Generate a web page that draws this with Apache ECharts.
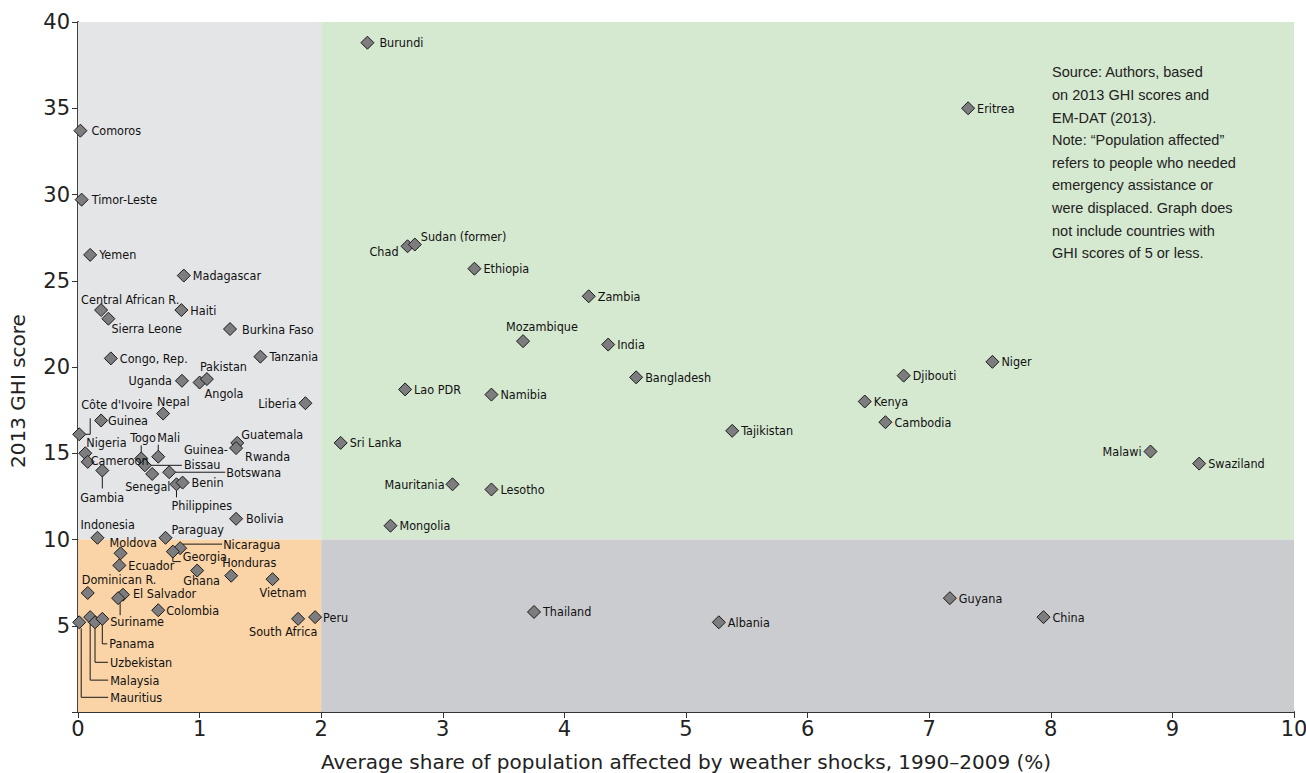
<!DOCTYPE html>
<html><head><meta charset="utf-8">
<script src="https://cdn.jsdelivr.net/npm/echarts@6/dist/echarts.min.js"></script>
<style>html,body{margin:0;padding:0;background:#fff}#chart{width:1306px;height:773px}</style>
</head><body><div id="chart"></div>
<script>
// ---------------- DATA ----------------
const countries = [
  'Comoros','Timor-Leste','Yemen','Madagascar','Central African R.','Sierra Leone','Haiti','Burkina Faso',
  'Congo, Rep.','Tanzania','Uganda','Angola','Pakistan','Liberia','Nepal','Côte d\'Ivoire','Guinea',
  'Nigeria','Cameroon','Gambia','Togo','Mali','Guinea-Bissau','Senegal','Botswana','Philippines','Benin',
  'Guatemala','Rwanda','Bolivia','Indonesia','Paraguay','Moldova','Ecuador','Nicaragua','Georgia','Ghana',
  'Honduras','Vietnam','Dominican R.','El Salvador','Suriname','Colombia','Mauritius','Malaysia',
  'Uzbekistan','Panama','South Africa','Peru','Burundi','Eritrea','Chad','Sudan (former)','Ethiopia',
  'Zambia','Mozambique','India','Bangladesh','Niger','Djibouti','Lao PDR','Namibia','Kenya','Cambodia',
  'Tajikistan','Sri Lanka','Mauritania','Lesotho','Mongolia','Malawi','Swaziland','Thailand','Albania',
  'Guyana','China'
];
const shareAffected = [
  0.02,0.03,0.10,0.87,0.19,0.25,0.85,1.25,
  0.27,1.50,0.855,1.00,1.06,1.87,0.70,0.01,0.19,
  0.06,0.08,0.20,0.52,0.66,0.55,0.61,0.75,0.81,0.86,
  1.31,1.30,1.30,0.16,0.72,0.35,0.34,0.84,0.78,0.98,
  1.26,1.60,0.08,0.37,0.33,0.66,0.01,0.10,
  0.14,0.20,1.81,1.95,2.38,7.32,2.71,2.77,3.26,
  4.20,3.66,4.36,4.59,7.52,6.79,2.69,3.40,6.47,6.64,
  5.38,2.16,3.08,3.40,2.57,8.82,9.22,3.75,5.27,
  7.17,7.94
];
const ghiScore = [
  33.7,29.7,26.5,25.3,23.3,22.8,23.3,22.2,
  20.5,20.6,19.2,19.1,19.3,17.9,17.3,16.1,16.9,
  15.0,14.5,14.0,14.7,14.8,14.3,13.8,13.9,13.2,13.3,
  15.6,15.3,11.2,10.1,10.1,9.2,8.5,9.5,9.3,8.2,
  7.9,7.7,6.9,6.8,6.6,5.9,5.2,5.5,
  5.2,5.4,5.4,5.5,38.8,35.0,27.0,27.1,25.7,
  24.1,21.5,21.3,19.4,20.3,19.5,18.7,18.4,18.0,16.8,
  16.3,15.6,13.2,12.9,10.8,15.1,14.4,5.8,5.2,
  6.6,5.5
];
const xRange = [0, 10];
const yRange = [0, 40];
const xSplit = 2;
const ySplit = 10;
const xAxisTitle = 'Average share of population affected by weather shocks, 1990–2009 (%)';
const yAxisTitle = '2013 GHI score';
const noteLines = [
  'Source: Authors, based',
  'on 2013 GHI scores and',
  'EM-DAT (2013).',
  'Note: “Population affected”',
  'refers to people who needed',
  'emergency assistance or',
  'were displaced. Graph does',
  'not include countries with',
  'GHI scores of 5 or less.'
];

// ---------------- LABEL LAYOUT (pixel offsets from marker centre) ----------------
const DEFAULT_LABEL = {dx: 9, dy: 0, align: 'left'};
const labelPlacement = {
  'Comoros': {dx: 11}, 'Timor-Leste': {dx: 10}, 'Burundi': {dx: 12}, 'Burkina Faso': {dx: 12},
  'Chad': {dx: -9, dy: 5, align: 'right'},
  'Sudan (former)': {dx: 6, dy: -8},
  'Mozambique': {dx: -17, dy: -15},
  'Central African R.': {dx: -20, dy: -11},
  'Sierra Leone': {dx: 3, dy: 10},
  'Pakistan': {dx: -7, dy: -13},
  'Uganda': {dx: -10, align: 'right'},
  'Angola': {dx: 5, dy: 11},
  'Liberia': {dx: -9, align: 'right'},
  'Nepal': {dx: -6, dy: -12},
  'Côte d\'Ivoire': {dx: 2, dy: -30},
  'Guinea': {dx: 7},
  'Nigeria': {dx: 1, dy: -11},
  'Cameroon': {dx: 3, dy: -1},
  'Gambia': {dx: -22, dy: 27},
  'Togo': {dx: -11, dy: -21},
  'Mali': {dx: -1, dy: -19},
  'Guinea-Bissau': {dx: 39, dy: -8, text: 'Guinea-\nBissau'},
  'Botswana': {dx: 57},
  'Senegal': {dx: -27, dy: 13},
  'Philippines': {dx: -5, dy: 21},
  'Guatemala': {dx: 4, dy: -8},
  'Rwanda': {dx: 9, dy: 8},
  'Bolivia': {dx: 10},
  'Indonesia': {dx: -17, dy: -13},
  'Paraguay': {dx: 6, dy: -8},
  'Moldova': {dx: -11, dy: -11},
  'Nicaragua': {dx: 43, dy: -4},
  'Georgia': {dx: 10, dy: 5},
  'Ghana': {dx: -14, dy: 10},
  'Honduras': {dx: -9, dy: -13},
  'Vietnam': {dx: -13, dy: 13},
  'Dominican R.': {dx: -6, dy: -13},
  'El Salvador': {dx: 10, dy: -1},
  'Suriname': {dx: -8, dy: 23},
  'Colombia': {dx: 8},
  'Panama': {dx: 7, dy: 25},
  'Uzbekistan': {dx: 15, dy: 40},
  'Malaysia': {dx: 20, dy: 63},
  'Mauritius': {dx: 31, dy: 75},
  'South Africa': {dx: -49, dy: 13},
  'Peru': {dx: 8},
  'Mauritania': {dx: -8, align: 'right'},
  'Malawi': {dx: -9, align: 'right'}
};
const leaderPaths = {
  'Côte d\'Ivoire': [[6,0],[11,0],[11,-16]],
  'Gambia': [[0,6],[0,18]],
  'Togo': [[0,-6],[0,-13]],
  'Mali': [[0,-6],[0,-12]],
  'Guinea-Bissau': [[6,0],[37,0]],
  'Botswana': [[6,0],[56,0]],
  'Philippines': [[0,6],[0,13]],
  'Nicaragua': [[2,-4],[42,-4]],
  'Georgia': [[0,6],[0,10],[8,10]],
  'Suriname': [[2,5],[2,17]],
  'Panama': [[0,6],[0,25],[5,25]],
  'Uzbekistan': [[0,6],[0,40],[13,40]],
  'Malaysia': [[0,6],[0,63],[18,63]],
  'Mauritius': [[2,6],[2,75],[29,75]]
};

// ---------------- STYLE ----------------
const LABEL_FONT = "'Liberation Sans Narrow', 'DejaVu Sans Condensed', 'Arial Narrow', sans-serif";
const AXIS_FONT = "'DejaVu Sans', sans-serif";
const NOTE_FONT = "'Liberation Sans', Arial, sans-serif";

const chart = echarts.init(document.getElementById('chart'), null, {renderer: 'svg'});

const scatterData = countries.map((c, i) => ({name: c, value: [shareAffected[i], ghiScore[i]]}));
const leaderData = scatterData.filter(d => leaderPaths[d.name]);

function placement(name) {
  return Object.assign({}, DEFAULT_LABEL, labelPlacement[name] || {});
}

const option = {
  backgroundColor: '#ffffff',
  animation: false,
  grid: {left: 78, right: 12, top: 22, bottom: 61, containLabel: false, outerBoundsMode: 'none'},
  xAxis: {
    type: 'value', min: xRange[0], max: xRange[1], interval: 1,
    name: xAxisTitle, nameLocation: 'middle', nameGap: 40,
    nameTextStyle: {fontFamily: AXIS_FONT, fontSize: 20, color: '#222'},
    axisLine: {show: true, onZero: false, lineStyle: {color: '#333', width: 2}},
    axisTick: {show: true, length: 6, lineStyle: {color: '#333', width: 1}},
    axisLabel: {fontFamily: AXIS_FONT, fontSize: 21, color: '#222', margin: 6},
    splitLine: {show: false}
  },
  yAxis: {
    type: 'value', min: yRange[0], max: yRange[1], interval: 5,
    name: yAxisTitle, nameLocation: 'middle', nameGap: 50, nameRotate: 90,
    nameTextStyle: {fontFamily: AXIS_FONT, fontSize: 20, color: '#222', padding: [0, 48, 0, 0]},
    axisLine: {show: true, onZero: false, lineStyle: {color: '#444', width: 2}},
    axisTick: {show: true, length: 6, lineStyle: {color: '#333', width: 1}},
    axisLabel: {fontFamily: AXIS_FONT, fontSize: 21, color: '#222', margin: 8,
      formatter: v => (v === 0 ? '' : String(v))},
    splitLine: {show: false}
  },
  graphic: [{
    type: 'text', left: 1052, top: 61, z: 10,
    style: {text: noteLines.join('\n'), font: "14.5px " + NOTE_FONT, lineHeight: 22.6, fill: '#222'}
  }],
  series: [
    {
      type: 'scatter', name: 'regions', data: [], z: 1, silent: true,
      markArea: {
        silent: true,
        data: [
          [{xAxis: xRange[0], yAxis: ySplit, itemStyle: {color: '#e4e5e7'}}, {xAxis: xSplit, yAxis: yRange[1]}],
          [{xAxis: xSplit, yAxis: ySplit, itemStyle: {color: '#d5e8d0'}}, {xAxis: xRange[1], yAxis: yRange[1]}],
          [{xAxis: xRange[0], yAxis: yRange[0], itemStyle: {color: '#fad3a6'}}, {xAxis: xSplit, yAxis: ySplit}],
          [{xAxis: xSplit, yAxis: yRange[0], itemStyle: {color: '#cbcccf'}}, {xAxis: xRange[1], yAxis: ySplit}]
        ]
      }
    },
    {
      type: 'custom', name: 'leaders', z: 3, silent: true,
      data: leaderData,
      renderItem: function (params, api) {
        const p = api.coord([api.value(0), api.value(1)]);
        const path = leaderPaths[leaderData[params.dataIndex].name];
        return {
          type: 'polyline',
          shape: {points: path.map(o => [p[0] + o[0], p[1] + o[1]])},
          style: {stroke: '#1a1a1a', lineWidth: 1, fill: null}
        };
      }
    },
    {
      type: 'scatter', name: 'countries', z: 5,
      data: scatterData,
      symbol: 'diamond', symbolSize: 13,
      itemStyle: {color: '#7d7d7f', borderColor: '#1a1a1a', borderWidth: 1, opacity: 1},
      label: {
        show: true, position: 'right',
        fontFamily: LABEL_FONT, fontSize: 12.5, color: '#111', lineHeight: 15,
        formatter: p => (placement(p.name).text || p.name)
      },
      labelLayout: function (params) {
        const pl = placement(countries[params.dataIndex]);
        const cx = params.rect.x + params.rect.width / 2;
        const cy = params.rect.y + params.rect.height / 2;
        return {x: cx + pl.dx, y: cy + pl.dy, align: pl.align, verticalAlign: 'middle'};
      },
      emphasis: {disabled: true}
    }
  ]
};
chart.setOption(option);
</script>
</body></html>
